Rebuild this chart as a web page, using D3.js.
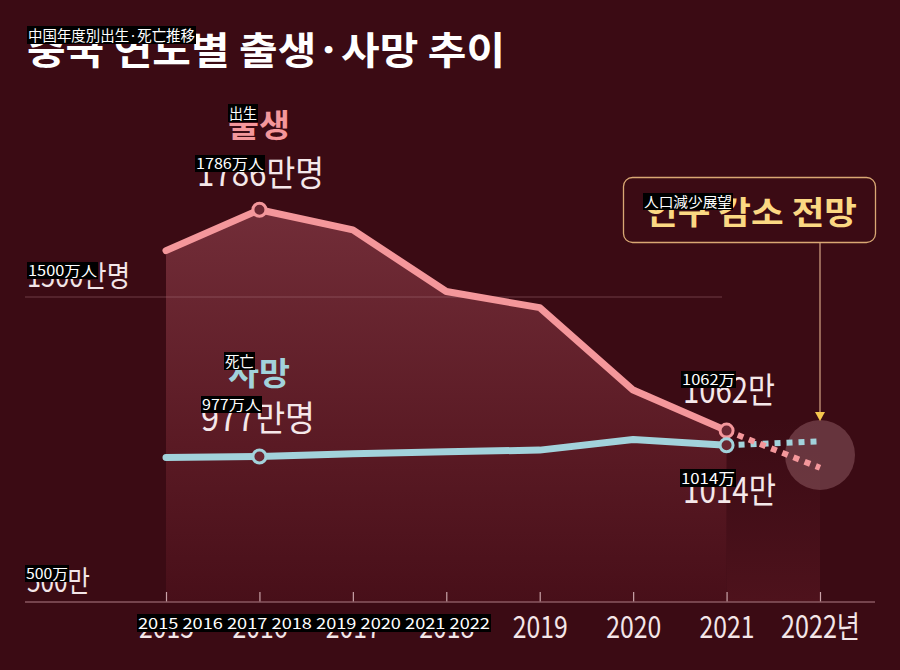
<!DOCTYPE html>
<html><head><meta charset="utf-8">
<script src="https://cdn.jsdelivr.net/npm/d3@7"></script>
<style>html,body{margin:0;padding:0;background:#3b0b14;}svg{display:block}</style>
</head><body>
<script>
// ---- data ----
const years = [2015, 2016, 2017, 2018, 2019, 2020, 2021, 2022];
const yearLabels = ["2015", "2016", "2017", "2018", "2019", "2020", "2021", "2022년"];
const births = [1652, 1786, 1720, 1518, 1465, 1195, 1062, 940];   // 만명
const deaths = [974, 977, 986, 993, 998, 1033, 1014, 1027];       // 만명
const projectedFrom = 6; // index of 2021, last actual value
const yTicks = [500, 1500];
const yTickLabels = ["500만", "1500만명"];
const title = "중국 연도별 출생·사망 추이";
const birthLabel = "출생", deathLabel = "사망";
const birthPeakLabel = "1786만명", deathPeakLabel = "977만명";
const birthLastLabel = "1062만", deathLastLabel = "1014만";
const forecastLabel = "인구 감소 전망";
// translation overlay texts seen on the picture
const overlayTexts = {
  title: "中国年度別出生·死亡推移", birth: "出生", birthPeak: "1786万人", y1500: "1500万人",
  death: "死亡", deathPeak: "977万人", forecast: "人口減少展望", birthLast: "1062万",
  deathLast: "1014万", y500: "500万", years: "2015 2016 2017 2018 2019 2020 2021 2022"
};

const W = 900, H = 670;
const svg = d3.select("body").append("svg").attr("width", W).attr("height", H);
const KR = "'Noto Sans CJK KR','Noto Sans',sans-serif";
const JP = "'Noto Sans CJK JP','Noto Sans',sans-serif";

svg.append("rect").attr("width", W).attr("height", H).attr("fill", "#3b0b14");

const x = d3.scaleLinear().domain([2015, 2022]).range([166, 820]);
const y = d3.scaleLinear().domain([500, 1500]).range([602, 297]);

const defs = svg.append("defs");
const g1 = defs.append("linearGradient").attr("id", "areaGrad").attr("x1", 0).attr("y1", 0).attr("x2", 0).attr("y2", 1);
g1.append("stop").attr("offset", "0%").attr("stop-color", "#722d38");
g1.append("stop").attr("offset", "60%").attr("stop-color", "#5a1a24");
g1.append("stop").attr("offset", "100%").attr("stop-color", "#480f19");
const g2 = defs.append("linearGradient").attr("id", "bandGrad").attr("x1", 0).attr("y1", 0).attr("x2", 0).attr("y2", 1);
g2.append("stop").attr("offset", "0%").attr("stop-color", "#4a121c").attr("stop-opacity", 0);
g2.append("stop").attr("offset", "100%").attr("stop-color", "#4e121c").attr("stop-opacity", 1);

// area under actual births
const actual = years.slice(0, projectedFrom + 1).map((yr, i) => ({yr, b: births[i], d: deaths[i]}));
svg.append("path").datum(actual)
  .attr("d", d3.area().x(d => x(d.yr)).y0(y(500)).y1(d => y(d.b)))
  .attr("fill", "url(#areaGrad)");
// projection band
svg.append("rect").attr("x", x(years[projectedFrom])).attr("width", x(2022) - x(years[projectedFrom]))
  .attr("y", y(1100)).attr("height", y(500) - y(1100)).attr("fill", "url(#bandGrad)");

// gridline 1500
svg.append("line").attr("x1", 25).attr("x2", 722).attr("y1", y(1500)).attr("y2", y(1500))
  .attr("stroke", "#b07a80").attr("stroke-opacity", 0.45).attr("stroke-width", 1);

// x axis
const xAxis = d3.axisBottom(x).tickValues(years).tickFormat((d, i) => yearLabels[i]).tickSize(-10).tickPadding(0);
const ax = svg.append("g").attr("transform", `translate(0,${y(500)})`).call(xAxis);
ax.select(".domain").remove();
ax.selectAll(".tick line").attr("stroke", "#c9a3a8").attr("stroke-width", 1.2);
ax.selectAll(".tick text").attr("fill", "#f3e6e8").attr("font-family", "'Liberation Sans',Arial,sans-serif")
  .attr("font-size", 31).attr("dy", null).attr("y", 36)
  .attr("textLength", (d, i) => yearLabels[i].length > 4 ? 79 : 55).attr("lengthAdjust", "spacingAndGlyphs")
  .attr("font-family", KR);
svg.append("line").attr("x1", 25).attr("x2", 875).attr("y1", y(500)).attr("y2", y(500))
  .attr("stroke", "#8a5860").attr("stroke-width", 1.5);

// y labels
const yl = [{v: yTicks[0], t: yTickLabels[0], w: 63}, {v: yTicks[1], t: yTickLabels[1], w: 103}];
svg.selectAll(".ylab").data(yl).enter().append("text")
  .attr("x", 27).attr("y", d => y(d.v) - (d.v === 500 ? 10 : 10))
  .attr("font-family", KR).attr("font-size", 29).attr("fill", "#f3e6e8")
  .attr("textLength", d => d.w).attr("lengthAdjust", "spacingAndGlyphs").text(d => d.t);

// forecast circle
svg.append("circle").attr("cx", x(2022)).attr("cy", 455).attr("r", 35).attr("fill", "#d9a3aa").attr("fill-opacity", 0.28);

// lines
const line = d3.line().x(d => x(d.yr)).y(d => d.v);
const bActual = actual.map(d => ({yr: d.yr, v: y(d.b)}));
const dActual = actual.map(d => ({yr: d.yr, v: y(d.d)}));
const bProj = [projectedFrom, 7].map(i => ({yr: years[i], v: y(births[i])}));
const dProj = [projectedFrom, 7].map(i => ({yr: years[i], v: y(deaths[i])}));
const PINK = "#f4979b", BLUE = "#a2d2db";
svg.append("path").datum(dProj).attr("d", line).attr("fill", "none").attr("stroke", BLUE)
  .attr("stroke-width", 6).attr("stroke-dasharray", "6,6");
svg.append("path").datum(bProj).attr("d", line).attr("fill", "none").attr("stroke", PINK)
  .attr("stroke-width", 6).attr("stroke-dasharray", "6,6");
svg.append("path").datum(dActual).attr("d", line).attr("fill", "none").attr("stroke", BLUE)
  .attr("stroke-width", 7).attr("stroke-linecap", "round").attr("stroke-linejoin", "round");
svg.append("path").datum(bActual).attr("d", line).attr("fill", "none").attr("stroke", PINK)
  .attr("stroke-width", 7).attr("stroke-linecap", "round").attr("stroke-linejoin", "round");

// markers
const markers = [
  {yr: 2016, v: births[1], c: PINK}, {yr: 2021, v: births[6], c: PINK},
  {yr: 2016, v: deaths[1], c: BLUE}, {yr: 2021, v: deaths[6], c: BLUE}
];
svg.selectAll(".mk").data(markers).enter().append("circle")
  .attr("cx", d => x(d.yr)).attr("cy", d => y(d.v)).attr("r", 6.5)
  .attr("fill", "#6a2631").attr("stroke", d => d.c).attr("stroke-width", 3);

// forecast box + arrow
svg.append("rect").attr("x", 623.5).attr("y", 177.5).attr("width", 252).attr("height", 65).attr("rx", 9)
  .attr("fill", "none").attr("stroke", "#d9a874").attr("stroke-width", 1.3);
svg.append("line").attr("x1", x(2022)).attr("x2", x(2022)).attr("y1", 243).attr("y2", 414)
  .attr("stroke", "#c99a7c").attr("stroke-width", 1.3);
svg.append("path").attr("d", `M${x(2022) - 5},412 L${x(2022) + 5},412 L${x(2022)},421 Z`).attr("fill", "#f6c64e");
svg.append("text").attr("x", 645).attr("y", 224).attr("font-family", KR).attr("font-weight", 700)
  .attr("font-size", 32).attr("fill", "#fbd883").attr("textLength", 212).attr("lengthAdjust", "spacingAndGlyphs")
  .text(forecastLabel);

// title
svg.append("text").attr("x", 27).attr("y", 64).attr("font-family", KR).attr("font-weight", 700)
  .attr("font-size", 38).attr("fill", "#ffffff").attr("textLength", 478).attr("lengthAdjust", "spacingAndGlyphs")
  .text(title);

// series labels
function lab(t, xx, yy, size, color, weight, tl, anchor) {
  const e = svg.append("text").attr("x", xx).attr("y", yy).attr("font-family", KR).attr("font-size", size)
    .attr("fill", color).attr("font-weight", weight).text(t);
  if (tl) e.attr("textLength", tl).attr("lengthAdjust", "spacingAndGlyphs");
  if (anchor) e.attr("text-anchor", anchor);
}
lab(birthLabel, 228, 137, 32, PINK, 700, 62);
lab(birthPeakLabel, 197, 186, 35, "#f5e8ea", 400, 127);
lab(deathLabel, 228, 385, 32, BLUE, 700, 62);
lab(deathPeakLabel, 201, 431, 35, "#f5e8ea", 400, 114);
lab(birthLastLabel, 683, 403, 35, "#f5e8ea", 400, 92);
lab(deathLastLabel, 683, 503, 35, "#f5e8ea", 400, 93);

// translation overlays
function overlay(t, xx, yy, w, h) {
  svg.append("rect").attr("x", xx).attr("y", yy).attr("width", w).attr("height", h).attr("fill", "#000");
  svg.append("text").attr("x", xx + 1).attr("y", yy + h - 3.5).attr("font-family", JP).attr("font-size", h - 3)
    .attr("fill", "#fff").attr("textLength", w - 2).attr("lengthAdjust", "spacingAndGlyphs").text(t);
}
overlay(overlayTexts.title, 27, 26, 169, 18);
overlay(overlayTexts.birth, 228, 104, 30, 18);
overlay(overlayTexts.birthPeak, 195, 155, 70, 17);
overlay(overlayTexts.y1500, 27, 262, 71, 17);
overlay(overlayTexts.death, 224, 352, 31, 18);
overlay(overlayTexts.deathPeak, 201, 396, 61, 17);
overlay(overlayTexts.forecast, 643, 193, 90, 17);
overlay(overlayTexts.birthLast, 681, 371, 55, 17);
overlay(overlayTexts.deathLast, 680, 469, 56, 18);
overlay(overlayTexts.y500, 25, 565, 44, 17);
overlay(overlayTexts.years, 137, 614, 354, 18);
</script>
</body></html>
